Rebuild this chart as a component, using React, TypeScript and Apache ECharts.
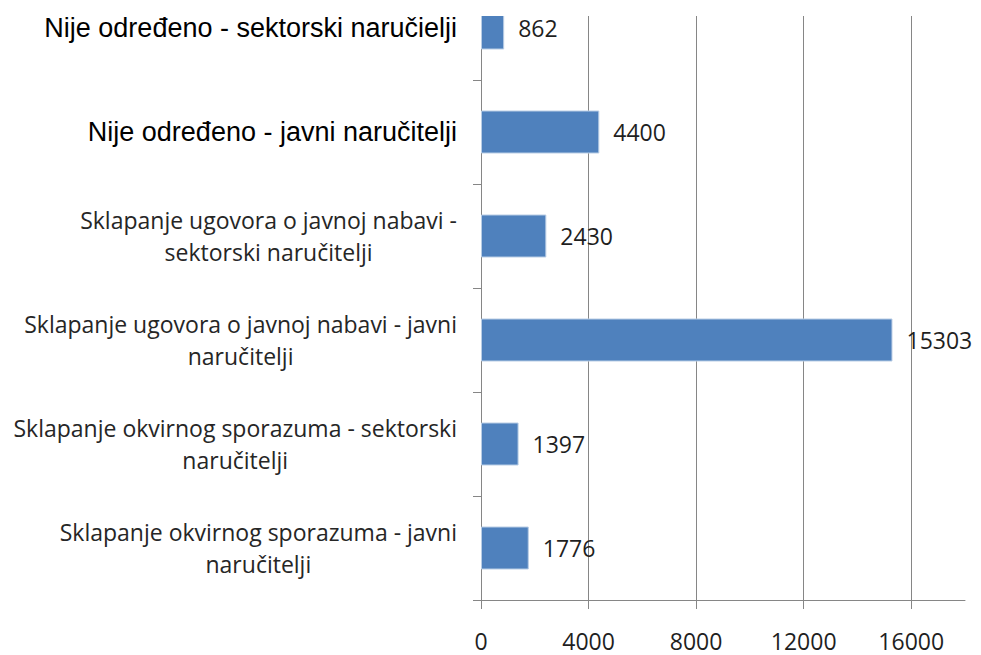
import React, { useEffect, useRef } from "react";
import * as echarts from "echarts";

// Categories, top to bottom (with manual line breaks as in the reference)
const categories: string[] = [
  "Nije određeno - sektorski naručielji",
  "Nije određeno - javni naručitelji",
  "Sklapanje ugovora o javnoj nabavi -\nsektorski naručitelji",
  "Sklapanje ugovora o javnoj nabavi - javni\nnaručitelji",
  "Sklapanje okvirnog sporazuma - sektorski\nnaručitelji",
  "Sklapanje okvirnog sporazuma - javni\nnaručitelji",
];
const values: number[] = [862, 4400, 2430, 15303, 1397, 1776];
const boldCategories: string[] = [
  "Nije određeno - sektorski naručielji",
  "Nije određeno - javni naručitelji",
];
const tickValues: number[] = [0, 4000, 8000, 12000, 16000];
const axisMax = 18000;

const OFFSET = 24; // chart canvas extends above the visible page

export default function App() {
  const ref = useRef<HTMLDivElement>(null);
  useEffect(() => {
    if (!ref.current) return;
    const chart = echarts.init(ref.current, null, { renderer: "svg" });
    const calibriLike = "'Open Sans', sans-serif";
    chart.setOption({
      animation: false,
      backgroundColor: "#ffffff",
      grid: { left: 481, right: 16, top: 0, bottom: 55, containLabel: false },
      xAxis: {
        type: "value",
        min: 0,
        max: axisMax,
        interval: 4000,
        axisLine: { show: true, lineStyle: { color: "#868686", width: 1 } },
        axisTick: {
          show: true,
          length: 9,
          customValues: tickValues,
          lineStyle: { color: "#868686" },
        },
        splitLine: {
          show: true,
          lineStyle: { color: "#868686", width: 1 },
        },
        axisLabel: {
          customValues: tickValues,
          margin: 29,
          color: "#1f1f1f",
          fontFamily: calibriLike,
          fontSize: 23,
          formatter: (v: number) => String(v),
        },
      },
      yAxis: {
        type: "category",
        inverse: true,
        data: categories,
        axisLine: { show: true, lineStyle: { color: "#868686", width: 1 } },
        axisTick: { show: true, length: 8, lineStyle: { color: "#868686" } },
        axisLabel: {
          margin: 24,
          lineHeight: 32,
          formatter: (v: string) => {
            if (boldCategories.includes(v)) return `{b|${v}}`;
            return v
              .split("\n")
              .map((l) => `{c|${l}}`)
              .join("\n");
          },
          rich: {
            b: {
              fontFamily: "'Liberation Sans', Arial, sans-serif",
              fontSize: 27,
              color: "#000000",
              align: "center",
            },
            c: {
              fontFamily: calibriLike,
              fontSize: 23,
              lineHeight: 32,
              color: "#262626",
              align: "center",
            },
          },
        },
      },
      series: [
        {
          type: "bar",
          data: values,
          barWidth: 43,
          itemStyle: {
            color: "#4F81BD",
            borderColor: "#B9CDE5",
            borderWidth: 1,
          },
          label: {
            show: true,
            position: "right",
            distance: 14,
            color: "#1f1f1f",
            fontFamily: calibriLike,
            fontSize: 23,
            formatter: (p: any) => String(p.value),
          },
        },
      ],
      graphic: [
        {
          type: "rect",
          z: 100,
          shape: { x: 462, y: 0, width: 519, height: 16 + OFFSET },
          style: { fill: "#ffffff" },
        },
      ],
    });
    return () => chart.dispose();
  }, []);
  return (
    <div
      ref={ref}
      style={{
        position: "fixed",
        left: 0,
        top: -OFFSET,
        width: 981,
        height: 655 + OFFSET,
      }}
    />
  );
}
